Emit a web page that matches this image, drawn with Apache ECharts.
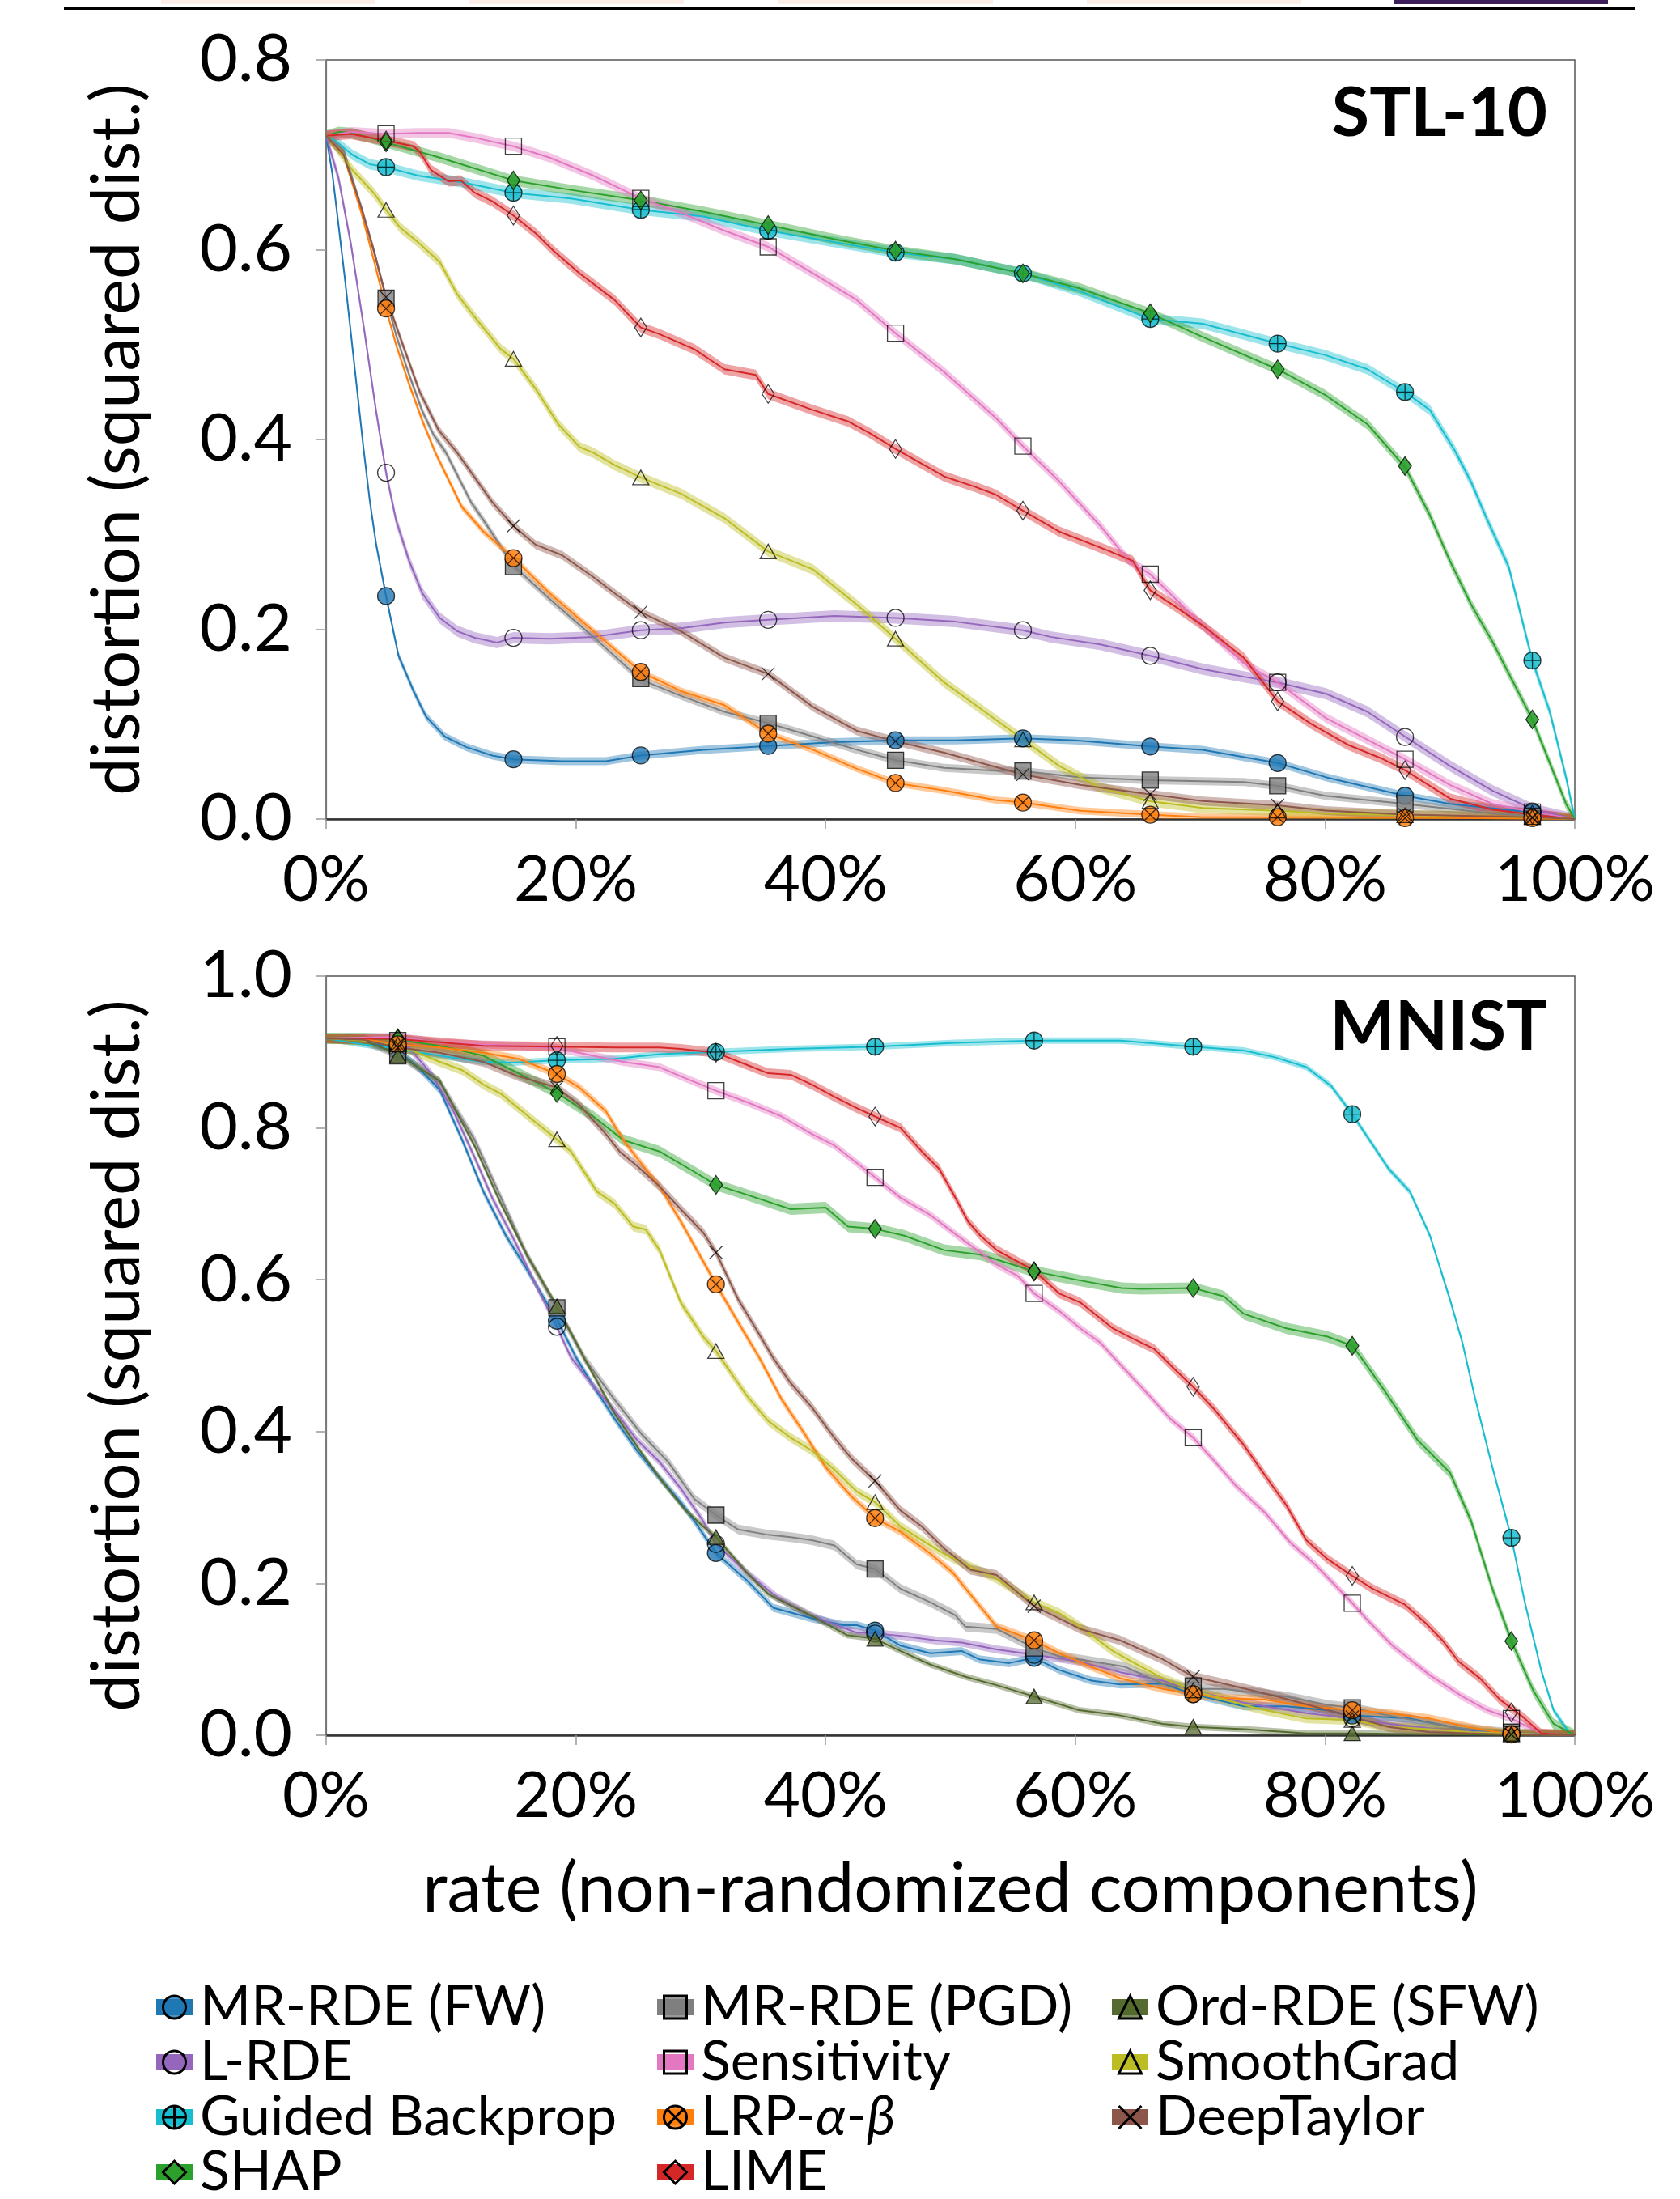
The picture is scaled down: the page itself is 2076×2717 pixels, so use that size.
<!DOCTYPE html>
<html><head><meta charset="utf-8">
<script src="https://cdn.jsdelivr.net/npm/echarts@6/dist/echarts.min.js"></script>
<style>html,body{margin:0;padding:0;background:#fff}#chart{width:2076px;height:2717px}</style>
</head><body><div id="chart"></div>
<script>
// ---------------- DATA ----------------
const METHODS = ['MR-RDE (FW)','L-RDE','Guided Backprop','SHAP','MR-RDE (PGD)','Sensitivity','LRP-α-β','LIME','Ord-RDE (SFW)','SmoothGrad','DeepTaylor'];
const X_TICK_LABELS = ['0%','20%','40%','60%','80%','100%'];
const PANEL_TITLES = ['STL-10','MNIST'];

// STL-10 (top) : [rate %, distortion]
const STL_MARK_X = [4.8,15.0,25.2,35.4,45.6,55.8,66.0,76.2,86.4,96.6];
const STL_FW = [[0,0.72],[0.5,0.68],[1,0.625],[1.5,0.57],[2,0.51],[2.5,0.45],[3,0.39],[3.5,0.335],[4,0.29],[4.8,0.235],[5.8,0.172],[7,0.135],[8,0.108],[9.5,0.087],[11.2,0.076],[13.3,0.067],[15,0.063],[18.9,0.061],[22.4,0.061],[25.2,0.067],[30.2,0.073],[35.4,0.077],[40.7,0.081],[45.6,0.083],[50.4,0.083],[55.8,0.085],[60,0.083],[66,0.0765],[70.2,0.073],[76.2,0.059],[80.1,0.044],[86.4,0.0245],[90,0.016],[96.6,0.007],[100,0]];
const STL_FW_MK = [0.235,0.063,0.067,0.077,0.083,0.085,0.0765,0.059,0.0245,0.007];
const STL_LRDE = [[0,0.72],[1,0.675],[2,0.605],[3,0.52],[4,0.43],[4.8,0.365],[5.6,0.315],[6.65,0.272],[7.7,0.238],[9.1,0.212],[10.5,0.198],[11.9,0.191],[13.7,0.186],[15,0.191],[17.9,0.19],[21.4,0.192],[25.2,0.199],[28.4,0.201],[31.9,0.207],[35.4,0.21],[40.7,0.214],[45.6,0.212],[50.4,0.208],[55.8,0.199],[58,0.192],[62,0.184],[66,0.172],[70.2,0.158],[73.5,0.15],[76.2,0.144],[80.1,0.132],[83.4,0.113],[86.4,0.087],[90,0.056],[93.4,0.03],[96.7,0.01],[100,0]];
const STL_LRDE_MK = [0.365,0.191,0.199,0.21,0.212,0.199,0.172,0.144,0.0865,0.008];
const STL_GB = [[0,0.72],[0.7,0.715],[2.1,0.70],[3.5,0.69],[4.8,0.687],[7.35,0.678],[10.9,0.671],[15,0.66],[19.6,0.654],[25.2,0.642],[30.2,0.635],[35.4,0.62],[40.7,0.608],[45.6,0.597],[50.4,0.59],[55.8,0.575],[60.4,0.556],[66,0.527],[70.2,0.522],[76.2,0.501],[80,0.489],[83.4,0.474],[86.4,0.45],[88.4,0.431],[90.4,0.388],[91.7,0.355],[93,0.315],[94.7,0.266],[96.6,0.167],[98,0.113],[99.3,0.044],[100,0]];
const STL_GB_MK = [0.687,0.66,0.642,0.62,0.597,0.575,0.527,0.501,0.45,0.167];
const STL_SHAP = [[0,0.72],[1,0.724],[2,0.723],[3.5,0.718],[4.8,0.713],[9.1,0.697],[15,0.673],[19.6,0.663],[25.2,0.652],[30.2,0.64],[35.4,0.626],[40.7,0.611],[45.6,0.599],[50.4,0.59],[55.8,0.575],[60.4,0.559],[66,0.533],[70.2,0.508],[76.2,0.474],[80,0.447],[83.4,0.416],[86.4,0.371],[88.4,0.32],[90,0.272],[91.7,0.226],[93.4,0.187],[96.6,0.105],[98,0.059],[99.3,0.016],[100,0]];
const STL_SHAP_MK = [0.713,0.673,0.652,0.626,0.599,0.575,0.533,0.474,0.372,0.105];
const STL_PGD = [[0,0.72],[1.4,0.705],[2.8,0.645],[3.8,0.6],[4.8,0.549],[5.6,0.51],[6.6,0.47],[7.7,0.43],[8.6,0.405],[9.6,0.386],[11.6,0.334],[12.6,0.315],[15,0.267],[17.9,0.232],[21.4,0.192],[25.2,0.147],[28.4,0.13],[31.9,0.113],[35.4,0.101],[39,0.087],[42.5,0.073],[45.6,0.062],[49.5,0.054],[53.6,0.051],[55.8,0.0506],[60.4,0.044],[66,0.041],[73.5,0.039],[76.2,0.035],[80,0.0245],[86.4,0.016],[93.4,0.006],[96.6,0.003],[100,0]];
const STL_PGD_MK = [0.549,0.266,0.148,0.101,0.062,0.0506,0.041,0.035,0.016,0.003];
const STL_SENS = [[0,0.72],[2.1,0.724],[4.8,0.722],[7.35,0.723],[9.8,0.723],[11.9,0.718],[15,0.709],[17.9,0.697],[21.4,0.678],[25.2,0.654],[28.4,0.639],[31.9,0.62],[35.4,0.603],[39,0.575],[42.5,0.547],[45.6,0.512],[49.5,0.471],[53.7,0.422],[55.8,0.393],[58.7,0.356],[62,0.309],[64.3,0.272],[66,0.258],[70.2,0.204],[73.5,0.164],[76.2,0.144],[80,0.107],[86.4,0.063],[90,0.036],[93.4,0.016],[96.6,0.0074],[100,0]];
const STL_SENS_MK = [0.722,0.709,0.654,0.603,0.512,0.393,0.258,0.144,0.063,0.0074];
const STL_LRP = [[0,0.72],[1.4,0.70],[2.8,0.64],[3.8,0.59],[4.8,0.538],[5.6,0.5],[6.6,0.46],[7.7,0.42],[8.75,0.386],[10.86,0.329],[12.6,0.303],[15,0.275],[17.9,0.238],[21.4,0.198],[25.2,0.155],[28.4,0.135],[31.9,0.12],[35.4,0.09],[39,0.073],[42.5,0.053],[45.6,0.038],[49.5,0.03],[53.6,0.02],[55.8,0.0174],[60.4,0.0088],[66,0.0046],[70.2,0.002],[80,0.002],[90,0.001],[100,0]];
const STL_LRP_MK = [0.538,0.275,0.155,0.09,0.038,0.0174,0.0046,0.002,0.001,0.001];
const STL_LIME = [[0,0.72],[2,0.722],[4.8,0.715],[7,0.709],[7.5,0.703],[8.4,0.684],[9.8,0.672],[10.8,0.673],[11.9,0.66],[13.3,0.651],[15,0.636],[16.8,0.617],[18.2,0.599],[20.3,0.575],[23.1,0.547],[25.2,0.518],[26.7,0.511],[29.5,0.495],[31.9,0.474],[34.4,0.468],[35.4,0.448],[39,0.431],[41.8,0.419],[43.5,0.407],[45.6,0.39],[49.5,0.361],[52,0.35],[53.6,0.342],[55.8,0.325],[58.7,0.303],[62.6,0.283],[64.6,0.272],[66,0.241],[68,0.224],[70.2,0.204],[73.5,0.17],[76.2,0.124],[78.8,0.101],[81.8,0.0785],[84.5,0.064],[86.4,0.0515],[90,0.0216],[93.4,0.01],[96.6,0.0046],[100,0]];
const STL_LIME_MK = [0.715,0.636,0.518,0.448,0.39,0.325,0.241,0.124,0.0515,0.0046];
const STL_SG = [[0,0.72],[0.7,0.71],[2.1,0.684],[3.8,0.66],[4.8,0.642],[5.95,0.623],[7.35,0.608],[9.1,0.587],[10.5,0.553],[11.9,0.529],[14,0.495],[15,0.485],[16.8,0.453],[18.6,0.416],[20.3,0.392],[21.4,0.386],[23.1,0.373],[25.2,0.36],[28.4,0.343],[31.9,0.317],[35.4,0.282],[39,0.263],[42.5,0.226],[45.6,0.19],[49.5,0.144],[53.7,0.104],[55.8,0.084],[58.7,0.056],[62,0.033],[66,0.0188],[70.2,0.0117],[76.2,0.0088],[80,0.006],[86.4,0.004],[96.6,0.002],[100,0]];
const STL_SG_MK = [0.642,0.485,0.36,0.282,0.19,0.084,0.0188,0.0088,0.004,0.002];
const STL_DT = [[0,0.72],[1.4,0.70],[2.8,0.645],[3.8,0.6],[4.8,0.55],[6,0.505],[7.5,0.45],[9,0.41],[10.5,0.386],[13.3,0.334],[15,0.309],[16.8,0.289],[18.9,0.278],[21.4,0.255],[23.1,0.238],[25.2,0.218],[28.4,0.198],[31.9,0.17],[35.4,0.153],[39,0.118],[42.5,0.093],[45.6,0.082],[49.5,0.07],[53.6,0.055],[55.8,0.047],[60.4,0.036],[66,0.026],[70.2,0.019],[76.2,0.0145],[80,0.009],[86.4,0.0046],[96.6,0.002],[100,0]];
const STL_DT_MK = [0.55,0.309,0.218,0.153,0.082,0.047,0.026,0.0145,0.0046,0.002];

// MNIST (bottom)
const MN_MARK_X = [5.74,18.48,31.22,43.96,56.70,69.44,82.18,94.92];
const MN_FW = [[0,0.918],[3,0.916],[5.74,0.902],[7.35,0.88],[9.1,0.85],[10.9,0.784],[12.6,0.716],[14.4,0.658],[16.1,0.613],[17.5,0.574],[18.48,0.548],[20,0.498],[21.4,0.46],[23.1,0.417],[24.9,0.375],[26.7,0.339],[28.4,0.307],[29.5,0.282],[31.22,0.24],[33.7,0.204],[35.8,0.168],[38.9,0.154],[41.4,0.145],[42.5,0.145],[43.96,0.138],[46,0.118],[48.4,0.108],[50.9,0.111],[52.3,0.1],[54.7,0.095],[56.7,0.102],[58.7,0.086],[61.3,0.072],[63.6,0.067],[67,0.068],[69.44,0.054],[73.5,0.038],[76.9,0.038],[80.1,0.033],[82.18,0.026],[86.8,0.022],[90.1,0.011],[92.7,0.004],[94.92,0.002],[100,0]];
const MN_FW_MK = [0.90,0.546,0.24,0.138,0.102,0.054,0.026,0.002];
const MN_LRDE = [[0,0.918],[3,0.916],[5.74,0.91],[6.6,0.906],[8.4,0.872],[10.2,0.822],[11.9,0.761],[13.3,0.708],[15.1,0.651],[16.8,0.593],[18.48,0.538],[19.6,0.498],[21.4,0.46],[23.1,0.428],[24.9,0.389],[26.7,0.36],[28.4,0.325],[30.2,0.282],[31.22,0.252],[33.7,0.214],[36.1,0.182],[38.9,0.157],[42.5,0.135],[43.96,0.134],[46,0.131],[48.8,0.125],[50.9,0.122],[53.7,0.113],[56.7,0.106],[60.3,0.097],[63.6,0.083],[67,0.072],[69.44,0.059],[73.5,0.043],[78.5,0.029],[82.18,0.022],[85.1,0.015],[90.1,0.006],[94.92,0.002],[100,0]];
const MN_LRDE_MK = [0.908,0.538,0.252,0.134,0.106,0.059,0.022,0.002];
const MN_GB = [[0,0.918],[3,0.91],[5.74,0.904],[9.1,0.895],[12.6,0.887],[15,0.886],[18.48,0.889],[23.1,0.891],[26.7,0.897],[31.22,0.9],[37.2,0.904],[43.96,0.907],[50.4,0.912],[56.7,0.915],[63.6,0.915],[69.44,0.907],[73.5,0.902],[76,0.893],[78.5,0.88],[80.5,0.855],[82.18,0.818],[85.1,0.746],[86.8,0.716],[88.4,0.658],[90,0.574],[91,0.517],[92,0.445],[93.4,0.353],[94.92,0.26],[96,0.175],[97.3,0.086],[98.3,0.033],[99.6,0.002],[100,0]];
const MN_GB_MK = [0.904,0.889,0.9,0.907,0.915,0.907,0.818,0.26];
const MN_SHAP = [[0,0.918],[3,0.918],[5.74,0.916],[9.1,0.908],[12.6,0.895],[15.4,0.872],[18.48,0.846],[21.4,0.815],[23.8,0.784],[26.7,0.769],[29.5,0.742],[31.22,0.725],[33.7,0.712],[37.2,0.693],[40,0.695],[41.8,0.67],[43.96,0.667],[46.3,0.658],[49.5,0.639],[52.4,0.633],[54,0.625],[56.7,0.611],[60.4,0.599],[63.7,0.589],[65.3,0.588],[69.44,0.589],[71.9,0.578],[73.5,0.555],[76.9,0.536],[80.2,0.525],[82.18,0.513],[83,0.495],[84.8,0.453],[87.4,0.389],[90,0.346],[91.7,0.282],[93.4,0.193],[94.92,0.124],[96.7,0.058],[98.3,0.015],[100,0]];
const MN_SHAP_MK = [0.918,0.846,0.725,0.667,0.611,0.589,0.513,0.124];
const MN_PGD = [[0,0.918],[3,0.915],[5.74,0.898],[7.35,0.88],[9.1,0.86],[11.9,0.784],[14,0.708],[16.1,0.632],[18.48,0.563],[20.7,0.496],[23.1,0.442],[25.3,0.396],[27.4,0.36],[29.5,0.311],[31.22,0.29],[33,0.271],[35.4,0.264],[37.2,0.261],[38.9,0.257],[40.7,0.25],[42.5,0.225],[43.96,0.219],[46,0.193],[48.4,0.175],[50.4,0.158],[51.2,0.143],[53.7,0.14],[56.7,0.115],[58.7,0.104],[61,0.098],[64,0.09],[67,0.068],[69.44,0.061],[71.9,0.061],[76.9,0.051],[80.2,0.04],[82.18,0.036],[85.1,0.026],[90,0.011],[92.7,0.006],[94.92,0.003],[100,0]];
const MN_PGD_MK = [0.895,0.563,0.29,0.219,0.115,0.065,0.036,0.004];
const MN_SENS = [[0,0.918],[5.74,0.92],[9.1,0.912],[12.6,0.91],[15.4,0.908],[18.48,0.905],[21.4,0.895],[23.8,0.887],[26.7,0.88],[28.4,0.868],[31.22,0.849],[33.7,0.834],[36.5,0.815],[38.9,0.792],[40.7,0.777],[43.96,0.735],[46,0.708],[48.4,0.685],[50.4,0.66],[53.7,0.62],[55.4,0.605],[56.7,0.582],[58.7,0.559],[60.4,0.536],[62,0.517],[64.3,0.476],[66,0.446],[67.6,0.417],[69.44,0.392],[71.2,0.36],[72.9,0.328],[75.2,0.293],[77.2,0.254],[79.2,0.225],[82.18,0.174],[83.5,0.15],[85.4,0.118],[88.4,0.079],[91,0.051],[93,0.033],[94.92,0.022],[97.3,0.0025],[100,0]];
const MN_SENS_MK = [0.915,0.907,0.849,0.735,0.582,0.392,0.174,0.022];
const MN_LRP = [[0,0.918],[3,0.917],[5.74,0.91],[9.1,0.906],[12.6,0.899],[15.4,0.891],[18.48,0.871],[20.3,0.853],[22.4,0.822],[23.8,0.784],[25.2,0.754],[26.7,0.723],[28.4,0.677],[31.22,0.594],[33,0.544],[34.7,0.497],[36.5,0.442],[38.2,0.4],[40,0.353],[42.1,0.314],[43.96,0.286],[46,0.268],[48.4,0.239],[50.2,0.214],[52.6,0.165],[53.7,0.143],[56.7,0.125],[58.7,0.108],[61.3,0.09],[63.6,0.075],[67,0.061],[69.44,0.054],[71.9,0.049],[75.2,0.047],[78.5,0.038],[82.18,0.033],[85.1,0.029],[88.4,0.022],[91.7,0.01],[94.92,0.001],[100,0]];
const MN_LRP_MK = [0.91,0.871,0.594,0.286,0.125,0.054,0.033,0.001];
const MN_LIME = [[0,0.918],[5.74,0.917],[12.6,0.908],[18.48,0.907],[23.1,0.906],[26.7,0.906],[28.4,0.904],[31.22,0.899],[33.7,0.883],[35.4,0.872],[37.2,0.87],[38.9,0.857],[40.7,0.841],[42.5,0.826],[43.96,0.815],[46,0.8],[47.7,0.769],[49.1,0.746],[50.4,0.708],[51.4,0.677],[52.4,0.658],[53.7,0.639],[56.7,0.612],[58.7,0.582],[60.4,0.57],[63,0.536],[64.3,0.525],[66.3,0.509],[67.9,0.483],[69.44,0.459],[71.2,0.428],[73.5,0.382],[75.5,0.335],[76.9,0.303],[78.5,0.257],[80.2,0.232],[82.18,0.21],[83.8,0.193],[86.4,0.172],[88.1,0.147],[89.4,0.125],[90.7,0.097],[92.4,0.075],[94,0.047],[96,0.022],[97.3,0.0025],[100,0]];
const MN_LIME_MK = [0.917,0.908,0.899,0.815,0.611,0.459,0.21,0.03];
const MN_ORD = [[0,0.918],[3,0.915],[5.74,0.898],[7.35,0.88],[9.1,0.862],[11.9,0.776],[14,0.70],[16.1,0.632],[18.48,0.565],[20.7,0.496],[23.1,0.424],[25.3,0.371],[26.7,0.339],[28.8,0.296],[30.2,0.275],[31.22,0.261],[33.7,0.214],[35.4,0.186],[38.9,0.157],[41.7,0.132],[43.96,0.127],[46,0.111],[48.4,0.093],[51.2,0.077],[53.7,0.066],[56.7,0.051],[60.3,0.033],[63.6,0.026],[67,0.015],[69.44,0.011],[73.5,0.008],[78.5,0.0025],[82.18,0.0025],[90,0.001],[100,0]];
const MN_ORD_MK = [0.895,0.565,0.261,0.127,0.051,0.011,0.0025,0.001];
const MN_SG = [[0,0.918],[3,0.915],[5.74,0.908],[7.35,0.899],[9.1,0.887],[10.9,0.876],[12.6,0.857],[14,0.845],[15.4,0.826],[16.8,0.807],[18.48,0.785],[19.6,0.769],[21.7,0.716],[23.1,0.70],[24.6,0.67],[25.6,0.666],[26.7,0.639],[28.4,0.57],[30.2,0.525],[31.22,0.506],[33.7,0.447],[35.4,0.414],[37.2,0.392],[38.9,0.375],[40.7,0.35],[42.5,0.321],[43.96,0.307],[46,0.275],[47.7,0.257],[49.5,0.239],[51.2,0.225],[53.6,0.207],[56.7,0.175],[58.7,0.161],[60.4,0.143],[63,0.111],[65.3,0.09],[67,0.075],[69.44,0.059],[73.5,0.04],[75.2,0.033],[78.5,0.022],[82.18,0.02],[85.1,0.011],[88.4,0.008],[91.7,0.004],[94.92,0.002],[100,0]];
const MN_SG_MK = [0.91,0.785,0.506,0.307,0.175,0.059,0.02,0.002];
const MN_DT = [[0,0.918],[3,0.916],[5.74,0.906],[9.1,0.899],[12.6,0.887],[15.4,0.868],[18.48,0.853],[20.3,0.83],[22.4,0.792],[23.5,0.769],[24.9,0.75],[26.7,0.723],[28.4,0.693],[30.2,0.662],[31.22,0.636],[33,0.574],[34.4,0.536],[35.8,0.497],[37.2,0.464],[38.9,0.432],[40.7,0.392],[42.1,0.364],[43.96,0.335],[46,0.296],[47.7,0.275],[49.5,0.246],[51.6,0.218],[53.7,0.211],[56.7,0.17],[58.7,0.154],[60.4,0.14],[63.6,0.125],[67,0.1],[69.44,0.077],[71.9,0.068],[76.2,0.051],[80.2,0.033],[82.18,0.024],[85.1,0.011],[88.4,0.004],[94.92,0.001],[100,0]];
const MN_DT_MK = [0.906,0.853,0.636,0.335,0.17,0.077,0.024,0.001];

const STL = {
  'MR-RDE (FW)':[STL_FW,STL_FW_MK], 'L-RDE':[STL_LRDE,STL_LRDE_MK], 'Guided Backprop':[STL_GB,STL_GB_MK],
  'SHAP':[STL_SHAP,STL_SHAP_MK], 'MR-RDE (PGD)':[STL_PGD,STL_PGD_MK], 'Sensitivity':[STL_SENS,STL_SENS_MK],
  'LRP-α-β':[STL_LRP,STL_LRP_MK], 'LIME':[STL_LIME,STL_LIME_MK], 'SmoothGrad':[STL_SG,STL_SG_MK], 'DeepTaylor':[STL_DT,STL_DT_MK]
};
const MNIST = {
  'MR-RDE (FW)':[MN_FW,MN_FW_MK], 'L-RDE':[MN_LRDE,MN_LRDE_MK], 'Guided Backprop':[MN_GB,MN_GB_MK],
  'SHAP':[MN_SHAP,MN_SHAP_MK], 'MR-RDE (PGD)':[MN_PGD,MN_PGD_MK], 'Sensitivity':[MN_SENS,MN_SENS_MK],
  'LRP-α-β':[MN_LRP,MN_LRP_MK], 'LIME':[MN_LIME,MN_LIME_MK], 'Ord-RDE (SFW)':[MN_ORD,MN_ORD_MK],
  'SmoothGrad':[MN_SG,MN_SG_MK], 'DeepTaylor':[MN_DT,MN_DT_MK]
};

// ---------------- STYLE ----------------
const OPLUS = 'path://M0,-10A10,10 0 1,1 0,10A10,10 0 1,1 0,-10ZM-10,0L10,0M0,-10L0,10';
const OTIMES = 'path://M0,-10A10,10 0 1,1 0,10A10,10 0 1,1 0,-10ZM-7.07,-7.07L7.07,7.07M-7.07,7.07L7.07,-7.07';
const XSYM = 'path://M-10,-10L10,10M-10,10L10,-10';
const NOFILL = 'rgba(0,0,0,0)';
const STYLE = {
  'MR-RDE (FW)':   {line:'#1f77b4', fill:'rgba(31,119,180,0.8)', sym:'circle', size:21},
  'L-RDE':         {line:'#9467bd', fill:NOFILL, sym:'circle', size:21},
  'Guided Backprop':{line:'#17becf', fill:'rgba(23,190,207,0.85)', sym:OPLUS, size:21},
  'SHAP':          {line:'#2ca02c', fill:'rgba(44,160,44,0.9)', sym:'diamond', size:[16,23]},
  'MR-RDE (PGD)':  {line:'#7f7f7f', fill:'rgba(127,127,127,0.8)', sym:'rect', size:20},
  'Sensitivity':   {line:'#e377c2', fill:NOFILL, sym:'rect', size:20},
  'LRP-α-β':       {line:'#ff7f0e', fill:'rgba(255,127,14,0.85)', sym:OTIMES, size:21},
  'LIME':          {line:'#d62728', fill:NOFILL, sym:'diamond', size:[15,23]},
  'Ord-RDE (SFW)': {line:'#556b2f', fill:'rgba(85,107,47,0.75)', sym:'triangle', size:[20,18]},
  'SmoothGrad':    {line:'#bcbd22', fill:NOFILL, sym:'triangle', size:[20,18]},
  'DeepTaylor':    {line:'#8c564b', fill:NOFILL, sym:XSYM, size:16}
};
const BAND = [
  {'MR-RDE (FW)':5,'L-RDE':7,'Guided Backprop':6.5,'SHAP':6.5,'MR-RDE (PGD)':5,'Sensitivity':6,'LRP-α-β':4.5,'LIME':6.5,'SmoothGrad':6.5,'DeepTaylor':5.5},
  {'MR-RDE (FW)':5,'L-RDE':5,'Guided Backprop':4,'SHAP':7,'MR-RDE (PGD)':6,'Sensitivity':5,'LRP-α-β':5,'LIME':6,'Ord-RDE (SFW)':4,'SmoothGrad':6,'DeepTaylor':6}
];
const FONT = 'Lato';

// ---------------- BUILD ----------------
const lineSeries = [], bandSeries = [], markSeries = [];
[[STL, STL_MARK_X], [MNIST, MN_MARK_X]].forEach(([ds, markX], gi) => {
  METHODS.forEach(name => {
    if (!ds[name]) return;
    const [pts, mk] = ds[name];
    const st = STYLE[name];
    lineSeries.push({
      type:'line', name, xAxisIndex:gi, yAxisIndex:gi, data:pts, showSymbol:false,
      symbol:st.sym, symbolSize:st.size, z:3, silent:true, animation:false,
      lineStyle:{color:st.line, width:2}, itemStyle:{color:st.fill, borderColor:'#000', borderWidth:1.3},
      emphasis:{disabled:true}
    });
    const half = BAND[gi][name];
    bandSeries.push({
      type:'custom', name, xAxisIndex:gi, yAxisIndex:gi, z:2, silent:true, animation:false, clip:true,
      data:[pts[0]],
      renderItem(params, api) {
        const up = [], lo = [];
        pts.forEach(p => { const c = api.coord(p); up.push([c[0], c[1]-half]); lo.push([c[0], c[1]+half]); });
        lo.reverse();
        return {type:'polygon', shape:{points: up.concat(lo)}, style:{fill: st.line, opacity:0.42}};
      }
    });
    markSeries.push({
      type:'scatter', name, xAxisIndex:gi, yAxisIndex:gi, z:4, silent:true, animation:false, clip:false,
      data: markX.map((x, i) => [x, mk[i]]),
      symbol:st.sym, symbolSize:st.size,
      itemStyle:{color:st.fill, borderColor:'rgba(0,0,0,0.75)', borderWidth:1.3, opacity:1},
      emphasis:{disabled:true}
    });
  });
});

function xAxis(gi, withName) {
  return {type:'value', gridIndex:gi, min:0, max:100, interval:20,
    name: withName ? 'rate (non-randomized components)' : '', nameLocation:'middle', nameGap:148, nameMoveOverlap:false,
    nameTextStyle:{fontFamily:FONT, fontSize:85, color:'#000'},
    axisLine:{show:true, onZero:false, lineStyle:{color:'#333', width:2.5}},
    axisTick:{show:true, length:12, lineStyle:{color:'#999', width:1.5}},
    axisLabel:{fontFamily:FONT, fontSize:78, color:'#000', margin:37, formatter: v => X_TICK_LABELS[Math.round(v/20)]},
    splitLine:{show:false}};
}
function yAxis(gi, max) {
  return {type:'value', gridIndex:gi, min:0, max:max, interval:0.2,
    name:'distortion (squared dist.)', nameLocation:'middle', nameGap:216, nameRotate:90, nameMoveOverlap:false,
    nameTextStyle:{fontFamily:FONT, fontSize:83, color:'#000'},
    axisLine:{show:true, onZero:false, lineStyle:{color:'#777', width:1.2}},
    axisTick:{show:true, length:12, lineStyle:{color:'#999', width:1.5}},
    axisLabel:{fontFamily:FONT, fontSize:82, color:'#000', margin:42, formatter: v => v.toFixed(1)},
    splitLine:{show:false}};
}
function legendCol(names, left) {
  return {orient:'vertical', left:left, top:2446, height:330, padding:0, itemWidth:45, itemHeight:35, itemGap:0, selectedMode:false,
    data: names.map(n => ({name:n, itemStyle:{color:STYLE[n].fill, borderColor:'#000', borderWidth:3}})),
    lineStyle:{width:20, opacity:1},
    textStyle:{fontFamily:FONT, fontSize:68, lineHeight:67, color:'#000', padding:[0,0,0,4],
      rich:{i:{fontFamily:FONT, fontStyle:'italic', fontSize:68, lineHeight:67, color:'#000'}}},
    formatter: n => n === 'LRP-α-β' ? 'LRP-{i|α}-{i|β}' : n};
}

const option = {
  backgroundColor:'#fff', animation:false,
  title: PANEL_TITLES.map((t, i) => ({text:t, right:159, top: i === 0 ? 93 : 1222,
    textStyle:{fontFamily:FONT, fontWeight:'bold', fontSize:85, color:'#000'}})),
  grid: [
    {left:403, top:74, width:1543, height:938, show:true, borderColor:'#555', borderWidth:1.5, backgroundColor:'transparent', outerBoundsMode:'none', containLabel:false},
    {left:403, top:1206, width:1543, height:938, show:true, borderColor:'#555', borderWidth:1.5, backgroundColor:'transparent', outerBoundsMode:'none', containLabel:false}
  ],
  xAxis: [xAxis(0,false), xAxis(1,true)],
  yAxis: [yAxis(0,0.8), yAxis(1,1.0)],
  legend: [
    legendCol(['MR-RDE (FW)','L-RDE','Guided Backprop','SHAP'], 183),
    legendCol(['MR-RDE (PGD)','Sensitivity','LRP-α-β','LIME'], 802),
    legendCol(['Ord-RDE (SFW)','SmoothGrad','DeepTaylor'], 1364)
  ],
  graphic: [
    {type:'rect', shape:{x:79, y:9, width:1941, height:3}, style:{fill:'#000'}},
    {type:'rect', shape:{x:199, y:0, width:264, height:5}, style:{fill:'#fdeee9'}},
    {type:'rect', shape:{x:580, y:0, width:265, height:5}, style:{fill:'#fdeee9'}},
    {type:'rect', shape:{x:962, y:0, width:265, height:5}, style:{fill:'#fdeee9'}},
    {type:'rect', shape:{x:1343, y:0, width:265, height:5}, style:{fill:'#fdeee9'}},
    {type:'rect', shape:{x:1722, y:0, width:265, height:5}, style:{fill:'#3d1f5e'}}
  ],
  series: lineSeries.concat(bandSeries, markSeries)
};
const chart = echarts.init(document.getElementById('chart'), null, {renderer:'canvas', width:2076, height:2717});
chart.setOption(option);
</script>
</body></html>
